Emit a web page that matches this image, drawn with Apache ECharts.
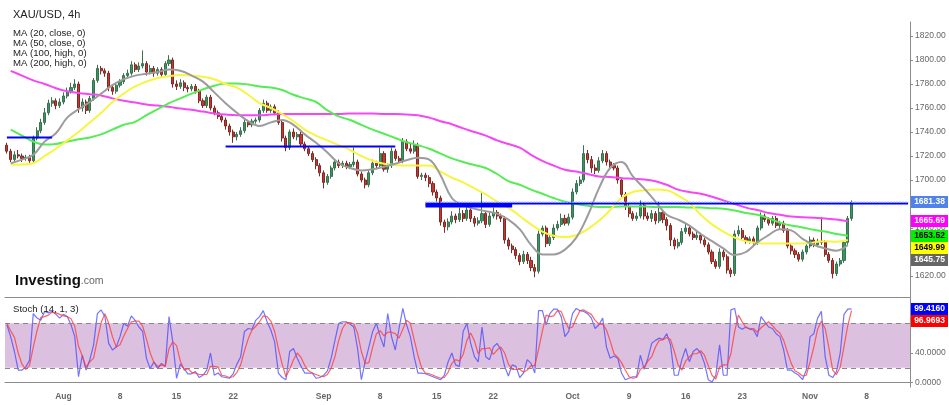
<!DOCTYPE html>
<html><head><meta charset="utf-8">
<script src="https://cdn.jsdelivr.net/npm/echarts@6/dist/echarts.min.js"></script>
<style>html,body{margin:0;padding:0;background:#fff}#c{width:949px;height:405px}</style>
</head><body><div id="c"></div>
<script>
// ---- time axis: 80 trading days, 3 bars per day, labels on day starts ----
const barsPerDay = 3;
const totalDays = 80;
const tickDays = [5,10,15,20,28,33,38,43,50,55,60,65,71,76];
const tickLabels = ['Aug','8','15','22','Sep','8','15','22','Oct','9','16','23','Nov','8'];
const priceTicks = [1620,1640,1660,1680,1700,1720,1740,1760,1780,1800,1820];
const stochTicks = [0,40,80];

// ---- XAU/USD bars ----
const firstOpen = 1729;
const closes = [
1724,1717,1721, 1720,1718,1719, 1716,1735,1741, 1748,1756,1764, 1766,1762,1765,
1770,1774,1777, 1780,1760,1765, 1758,1768,1783, 1793,1791,1789, 1777,1774,1779,
1782,1787,1789, 1796,1792,1795, 1797,1790,1793, 1789,1792,1788, 1797,1800,1780,
1778,1781,1777, 1776,1778,1774, 1766,1762,1769, 1760,1756,1753, 1750,1745,1740,
1736,1738,1741, 1748,1746,1749, 1750,1758,1764, 1758,1761,1756, 1748,1735,1727,
1740,1736,1738, 1730,1726,1722, 1717,1712,1706, 1698,1703,1710, 1715,1712,1714,
1711,1713,1715, 1705,1700,1696, 1706,1714,1712, 1722,1709,1712, 1724,1718,1716,
1732,1726,1724, 1729,1703,1704, 1702,1697,1690, 1685,1665,1661, 1665,1670,1667,
1672,1668,1675, 1668,1664,1666, 1672,1663,1670, 1673,1670,1668, 1650,1645,1642,
1637,1632,1638, 1633,1627,1624, 1655,1660,1647, 1652,1660,1663, 1668,1664,1669,
1690,1697,1700, 1722,1717,1710, 1708,1716,1722, 1715,1712,1710, 1700,1688,1678,
1672,1668,1670, 1679,1670,1668, 1672,1666,1673, 1667,1662,1650, 1645,1648,1657,
1660,1655,1652, 1654,1650,1646, 1640,1632,1628, 1640,1636,1625, 1622,1655,1658,
1652,1649,1651, 1648,1660,1670, 1667,1664,1668, 1662,1664,1658, 1645,1641,1638,
1634,1640,1645, 1650,1646,1649, 1648,1638,1633, 1622,1630,1633, 1648,1668,1681.38];
const highs = [
1731,1726,1724, 1725,1722,1721, 1721,1737,1744, 1751,1760,1767, 1769,1768,1768,
1773,1777,1781, 1784,1782,1768, 1767,1770,1785, 1796,1795,1793, 1791,1779,1781,
1784,1789,1792, 1799,1798,1798, 1808,1799,1796, 1795,1794,1794, 1799,1804,1802,
1783,1784,1783, 1779,1780,1780, 1776,1768,1771, 1771,1762,1758, 1755,1752,1747,
1742,1740,1744, 1750,1750,1751, 1752,1760,1767, 1766,1763,1763, 1758,1750,1737,
1742,1743,1740, 1740,1732,1728, 1724,1719,1714, 1708,1705,1712, 1717,1717,1716,
1716,1715,1727, 1717,1707,1702, 1708,1717,1716, 1727,1724,1714, 1727,1726,1720,
1735,1734,1731, 1733,1731,1706, 1706,1704,1699, 1692,1687,1667, 1668,1674,1672,
1677,1675,1678, 1677,1670,1669, 1690,1674,1673, 1677,1675,1672, 1670,1652,1647,
1644,1639,1641, 1640,1636,1630, 1658,1662,1662, 1655,1663,1666, 1672,1671,1672,
1693,1700,1703, 1729,1725,1720, 1713,1719,1725, 1724,1717,1714, 1712,1702,1690,
1680,1674,1673, 1683,1681,1673, 1675,1674,1682, 1675,1669,1664, 1652,1651,1660,
1664,1662,1657, 1657,1656,1652, 1648,1642,1634, 1643,1642,1638, 1627,1658,1662,
1660,1654,1653, 1653,1662,1673, 1672,1669,1670, 1670,1666,1666, 1660,1647,1643,
1640,1642,1647, 1653,1652,1651, 1669,1650,1640, 1635,1632,1635, 1650,1670,1683];
const lows = [
1722,1715,1715, 1718,1715,1716, 1713,1714,1733, 1739,1746,1754, 1761,1759,1760,
1763,1768,1772, 1775,1756,1757, 1755,1756,1766, 1781,1788,1786, 1774,1771,1772,
1777,1780,1785, 1787,1790,1790, 1793,1787,1788, 1786,1787,1785, 1786,1795,1777,
1775,1776,1774, 1773,1774,1772, 1764,1760,1760, 1758,1754,1751, 1748,1742,1737,
1731,1733,1736, 1739,1744,1744, 1747,1748,1756, 1756,1756,1754, 1746,1732,1724,
1725,1734,1733, 1728,1724,1720, 1715,1709,1703, 1693,1696,1701, 1708,1710,1710,
1709,1709,1711, 1703,1698,1693, 1694,1704,1709, 1710,1707,1706, 1710,1716,1714,
1714,1724,1722, 1722,1701,1700, 1699,1694,1687, 1682,1662,1656, 1658,1663,1664,
1665,1665,1666, 1665,1661,1662, 1664,1660,1661, 1668,1667,1665, 1647,1642,1639,
1634,1629,1630, 1630,1624,1619, 1622,1653,1644, 1645,1650,1658, 1661,1662,1662,
1667,1688,1695, 1698,1714,1706, 1705,1706,1714, 1712,1710,1708, 1697,1685,1675,
1669,1666,1666, 1668,1667,1666, 1665,1663,1664, 1664,1658,1645, 1642,1643,1646,
1655,1653,1650, 1650,1647,1644, 1638,1630,1626, 1626,1633,1622, 1619,1620,1653,
1650,1647,1647, 1646,1646,1658, 1665,1662,1662, 1660,1659,1656, 1643,1638,1635,
1632,1632,1638, 1643,1644,1644, 1646,1636,1631, 1618,1620,1628, 1631,1646,1666];

// ---- moving averages, one reading per trading day ----
const ma20 = [1714,1717,1721,1732,1739,1752,1759,1765,1772,1779,1784,1787,1788.5,1790,1792,
1791,1787,1782,1773,1764,1756,1749,1745,1748,1750,1746,1738,1731,1723,1714,
1710,1708,1709,1711,1713.5,1716.5,1718.5,1717,1704,1685,1679,1676,1674,1672,1667,
1659,1646,1638,1638,1642,1652,1670,1693,1710,1715,1703,1693,1682,1671,1667,
1662,1655,1649,1643,1637.5,1640,1648,1654,1659,1658,1651,1646,1643,1641,1645.75];
const ma50 = [1713,1713,1714,1720,1726,1733,1740,1748,1756,1765,1772,1778,1782,1785,1786.5,
1787.5,1787,1786,1784,1780,1777,1771,1764,1760,1755,1749,1742,1737,1733,1729,
1725,1720,1716,1713.5,1712.5,1712,1712,1712,1707,1702,1698,1693,1688,1682,1677,
1670,1663,1657,1653.5,1652.5,1654,1659,1666,1675,1685,1690,1691.5,1692,1691.5,1687,
1681,1671,1663,1657,1652,1649,1647.5,1647,1647,1647,1647,1648,1649,1648.5,1649.99];
const ma100 = [1742,1737,1732,1729.5,1730,1732,1734,1735.5,1738,1742,1746,1748.5,1754,1759,1764,
1768,1772,1775.5,1778.5,1780.5,1780.5,1779.5,1778,1777,1775,1771,1768,1765,1758,1753,
1750,1746,1742,1738.5,1735,1731.5,1729,1726,1722,1718,1715,1712.5,1710,1705,1699,
1696,1692,1688.5,1685,1682,1680,1678.5,1677.5,1677.5,1678,1678,1678,1677.5,1677.5,1677.5,
1677,1677,1676.5,1676,1674.5,1672.5,1671,1668,1664.5,1662,1660.5,1658.5,1657,1655,1653.52];
const ma200 = [1791,1787,1783,1780,1776.5,1774,1772.5,1771.5,1770.5,1768,1766,1764.5,1763,1762,1761,
1759.5,1758.5,1757,1755.5,1754.5,1754,1754,1754,1754.5,1755,1755,1755,1755,1755,1755,
1755.5,1755.5,1755.5,1755,1755,1754.5,1754,1752,1749,1746.5,1743,1740,1737,1733,1730,
1727,1721,1716,1712,1708.5,1707,1705,1703,1702.5,1701.5,1701,1700.5,1699,1696,1692,
1690,1688.5,1686,1683,1680,1677,1675,1672.5,1671,1669.5,1669,1668.5,1668,1667,1665.69];

// ---- stochastic (14,1,3) ----
const stochK = [78,62,42,17,17,21,30,93,87,84,96,94,96,92,87,92,89,78,62,8,
37,17,31,51,93,98,89,53,44,48,62,80,76,90,84,75,69,33,19,28,
19,26,22,89,55,6,25,19,12,12,15,7,10,17,40,10,13,8,7,6,
12,25,35,69,73,72,84,89,97,82,71,55,13,7,4,42,46,33,22,13,
13,13,6,7,10,16,33,57,80,82,82,79,75,46,4,28,48,69,80,62,
48,93,62,44,73,100,78,62,35,13,13,12,10,8,6,4,10,28,40,24,
22,69,80,53,35,28,75,35,31,48,53,44,22,9,24,22,7,13,31,26,
13,97,97,78,93,99,99,89,62,69,93,100,97,96,93,87,73,78,87,48,
33,36,33,13,4,6,8,8,37,18,33,53,57,60,58,66,51,10,10,31,
46,28,42,46,40,26,4,1,10,51,10,10,98,100,75,72,75,72,71,62,
89,82,75,73,66,62,44,17,17,13,10,4,17,62,66,87,96,35,10,7,
15,40,92,99,99.416];
const stochD = [80,70,61,40,25,18,23,48,70,88,89,91,95,94,92,90,89,86,76,49,
36,21,28,33,58,81,93,80,62,48,51,63,73,82,83,83,76,59,40,27,
22,24,22,46,55,50,29,17,19,14,13,11,11,11,22,22,21,10,9,7,
8,14,24,43,59,71,76,82,90,89,83,69,46,25,8,18,31,40,34,23,
16,13,11,9,8,11,20,35,57,73,81,81,79,67,42,26,27,48,66,70,
63,68,68,66,60,72,84,80,58,37,20,13,12,10,8,6,7,14,26,31,
29,38,57,67,56,39,46,46,47,38,44,48,40,25,18,18,18,14,17,23,
23,45,69,91,89,90,97,96,83,73,75,87,97,98,95,92,84,79,79,71,
56,39,34,27,17,8,6,7,18,21,29,35,48,57,58,61,58,42,24,17,
29,35,39,39,43,37,23,10,5,21,24,24,39,69,91,82,74,73,73,68,
74,78,82,77,71,67,57,41,26,16,13,9,10,28,48,72,83,73,47,17,
11,21,49,77,96.9693];

// ---- hand-drawn levels (bar index from, bar index to, price) ----
const levelFrom = [0, 58, 111, 111];
const levelTo = [12, 103, 239, 134];
const levelPrice = [1735.5, 1728, 1680.4, 1678.6];

// ---------------------------------------------------------------
const nBars = totalDays * barsPerDay;
const cats = [];
const labelAt = {};
for (let i = 0; i < nBars; i++) cats.push('b' + i);
tickDays.forEach((d, k) => { labelAt[d * barsPerDay] = tickLabels[k]; });

const candles = closes.map((c, i) => [i ? closes[i - 1] : firstOpen, c, lows[i], highs[i]]);
const dayPts = arr => arr.map((v, d) => [d * barsPerDay + 1, v]);
const lastClose = closes[closes.length - 1];

const chart = echarts.init(document.getElementById('c'), null, {renderer: 'canvas'});

const axisGray = '#8c8c8c';
const xBase = {
  type: 'category', data: cats, boundaryGap: true,
  axisTick: {show: false}, splitLine: {show: false},
  axisLine: {show: true, lineStyle: {color: axisGray, width: 1}}
};

const maSeries = (data, color, name) => ({
  type: 'line', name, data: dayPts(data), xAxisIndex: 0, yAxisIndex: 0,
  smooth: 0.4, showSymbol: false, silent: true, z: 4,
  lineStyle: {color, width: 2}
});

const levelSeries = levelFrom.map((f, k) => ({
  type: 'line', data: [[f, levelPrice[k]], [levelTo[k], levelPrice[k]]],
  xAxisIndex: 0, yAxisIndex: 0, showSymbol: false, silent: true, z: 6,
  lineStyle: {color: '#0000ff', width: k === 3 ? 3.5 : 2}
}));

chart.setOption({
  animation: false,
  backgroundColor: '#fff',
  grid: [
    {left: 5, right: 39, top: 22, height: 275},
    {left: 5, right: 39, top: 297, height: 90}
  ],
  xAxis: [
    Object.assign({}, xBase, {gridIndex: 0, axisLabel: {show: false}}),
    Object.assign({}, xBase, {gridIndex: 1, axisLabel: {
      show: true, color: '#666', fontSize: 8.5, fontWeight: 'bold', fontFamily: 'Arial', margin: 5,
      interval: (idx) => labelAt[idx] !== undefined,
      formatter: (v, idx) => labelAt[idx] || ''
    }})
  ],
  yAxis: [
    {type: 'value', gridIndex: 0, position: 'right', min: 1602.5, max: 1831.667, scale: true,
     splitLine: {show: false},
     axisLine: {show: true, lineStyle: {color: axisGray}},
     axisTick: {show: true, length: 3, customValues: priceTicks, lineStyle: {color: axisGray}},
     axisLabel: {customValues: priceTicks, formatter: v => v.toFixed(2), color: '#666', fontSize: 8.5, fontFamily: 'Arial', margin: 5}},
    {type: 'value', gridIndex: 1, position: 'right', min: -5.8, max: 115.4,
     splitLine: {show: false},
     axisLine: {show: true, lineStyle: {color: axisGray}},
     axisTick: {show: true, length: 3, customValues: stochTicks, lineStyle: {color: axisGray}},
     axisLabel: {customValues: stochTicks, formatter: v => v.toFixed(4), color: '#666', fontSize: 8.5, fontFamily: 'Arial', margin: 5}}
  ],
  series: [
    {type: 'candlestick', data: candles, xAxisIndex: 0, yAxisIndex: 0, barWidth: '68%', z: 3,
     itemStyle: {color: '#2e9d5a', color0: '#c7372f', borderColor: '#3f6f52', borderColor0: '#7e2a25', borderWidth: 1}},
    maSeries(ma200, '#f548f5', 'MA200'),
    maSeries(ma100, '#55ec55', 'MA100'),
    maSeries(ma50, '#f7f53f', 'MA50'),
    maSeries(ma20, '#9c9c9c', 'MA20'),
    ...levelSeries,
    {type: 'line', data: [[levelFrom[2], lastClose], [levelTo[2], lastClose]], xAxisIndex: 0, yAxisIndex: 0,
     showSymbol: false, silent: true, z: 7, lineStyle: {color: '#8fb0ff', width: 1.5, type: 'dotted'}},
    {type: 'line', data: stochK, xAxisIndex: 1, yAxisIndex: 1, showSymbol: false, silent: true, z: 4,
     lineStyle: {color: 'rgba(70,70,255,0.75)', width: 1.2},
     markArea: {silent: true, itemStyle: {color: '#dcc0df'}, data: [[{yAxis: 20}, {yAxis: 80}]]},
     markLine: {silent: true, symbol: 'none', label: {show: false},
       lineStyle: {color: '#888', type: [5, 4], width: 1}, data: [{yAxis: 20}, {yAxis: 80}]}},
    {type: 'line', data: stochD, xAxisIndex: 1, yAxisIndex: 1, showSymbol: false, silent: true, z: 5,
     lineStyle: {color: 'rgba(255,60,60,0.8)', width: 1.2}}
  ]
});

// ---- labels, legend texts and last-value tags ----
function stackTags(list, axisIdx) {
  const out = list.map(t => Object.assign({}, t, {y: chart.convertToPixel({yAxisIndex: axisIdx}, t.v)}));
  out.sort((a, b) => a.y - b.y);
  for (let i = 1; i < out.length; i++) if (out[i].y < out[i - 1].y + 12) out[i].y = out[i - 1].y + 12;
  return out;
}
function tagEl(t, digits) {
  return {type: 'group', zlevel: 5, z: 100, children: [
    {type: 'rect', zlevel: 5, shape: {x: 911, y: Math.round(t.y) - 6, width: 37, height: 12}, style: {fill: t.bg}},
    {type: 'text', zlevel: 5, style: {x: 929.5, y: Math.round(t.y), text: t.v.toFixed(digits), fill: t.fg,
      font: 'bold 8.5px Arial', align: 'center', verticalAlign: 'middle'}}
  ]};
}
const priceTags = stackTags([
  {v: lastClose, bg: '#4f82ea', fg: '#fff'},
  {v: ma200[ma200.length - 1], bg: '#ff00ff', fg: '#fff'},
  {v: ma100[ma100.length - 1], bg: '#00f000', fg: '#000'},
  {v: ma50[ma50.length - 1], bg: '#ffff00', fg: '#000'},
  {v: ma20[ma20.length - 1], bg: '#666666', fg: '#fff'}
], 0);
const stochTags = stackTags([
  {v: stochK[stochK.length - 1], bg: '#0000ff', fg: '#fff'},
  {v: stochD[stochD.length - 1], bg: '#ff0000', fg: '#fff'}
], 1);

const txt = (x, y, text, font, fill) => ({type: 'text', z: 50, style: {x, y, text, font, fill: fill || '#222', verticalAlign: 'middle'}});
chart.setOption({graphic: [
  txt(13, 15, 'XAU/USD, 4h', '11px Arial', '#222'),
  txt(13, 33, 'MA (20, close, 0)', '9.6px Arial', '#222'),
  txt(13, 43, 'MA (50, close, 0)', '9.6px Arial', '#222'),
  txt(13, 53, 'MA (100, high, 0)', '9.6px Arial', '#222'),
  txt(13, 63, 'MA (200, high, 0)', '9.6px Arial', '#222'),
  txt(13, 309, 'Stoch (14, 1, 3)', '9.6px Arial', '#222'),
  {type: 'text', z: 50, style: {x: 15, y: 281, verticalAlign: 'middle',
    text: '{a|Investing}{b|.com}',
    rich: {a: {font: 'bold 15px Arial', fill: '#111'}, b: {font: '10.5px Arial', fill: '#666'}}}},
  ...priceTags.map(t => tagEl(t, 2)),
  ...stochTags.map(t => tagEl(t, 4))
]});
</script></body></html>
